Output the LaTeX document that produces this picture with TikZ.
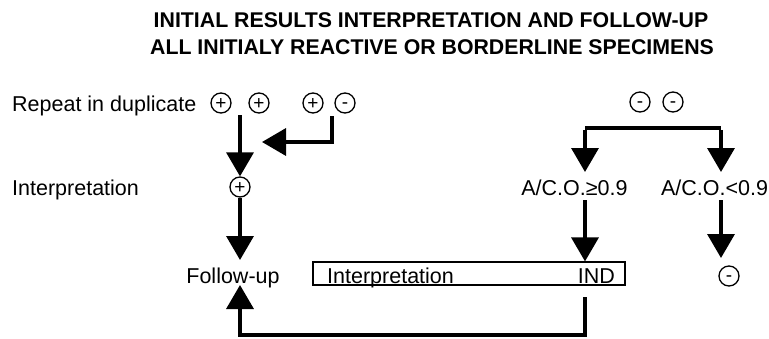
\documentclass[tikz,border=0pt]{standalone}
\usepackage{fontspec}
\setmainfont{Liberation Sans}
\usetikzlibrary{arrows.meta}
\newcommand\plussign{\raisebox{-6.3pt}[0pt][0pt]{+}}
\newcommand\minussign{\raisebox{-5pt}[0pt][0pt]{-}}
\begin{document}
\begin{tikzpicture}[x=1pt,y=-1pt,
 lbl/.style={font=\fontsize{21.5}{24}\selectfont, inner sep=0pt},
 ttl/.style={font=\bfseries\fontsize{21.3}{24}\selectfont, inner sep=0pt, anchor=base},
 res/.style={circle, draw, line width=1.3pt, minimum size=20pt, inner sep=0pt, font=\fontsize{19}{19}\selectfont},
 flow/.style={line width=3.5pt, -{Triangle[length=24pt,width=27pt]}, line join=miter},
 bar/.style={line width=3.5pt, line join=miter}]
\useasboundingbox (0,0) rectangle (769,338);
% title
\node[ttl] (t1) at (431,27) {INITIAL RESULTS INTERPRETATION AND FOLLOW-UP};
\node[ttl] (t2) at (432,54) {ALL INITIALY REACTIVE OR BORDERLINE SPECIMENS};
% left labels
\node[lbl, anchor=base west] (rep) at (12,111) {Repeat in duplicate};
\node[lbl, anchor=base west] (int) at (12,195) {Interpretation};
% result circles
\node[res] (p1) at (221,103) {\plussign};
\node[res] (p2) at (259,103) {\plussign};
\node[res] (p3) at (313,103) {\plussign};
\node[res] (m1) at (345,103) {\minussign};
\node[res] (ip) at (240,187) {\plussign};
\node[res] (m2) at (640,102) {\minussign};
\node[res] (m3) at (673,102) {\minussign};
\node[res] (m4) at (729,276) {\minussign};
% lower texts
\node[lbl, anchor=base] (fu) at (233,283) {Follow-up};
\node[draw, line width=1.2pt, minimum width=312pt, minimum height=23pt, inner sep=0pt] (bx) at (469,273.5) {};
\node[lbl, anchor=base west] (bi) at (327,283) {Interpretation};
\node[lbl, anchor=base east] (bind) at (615,283) {IND};
\node[lbl, anchor=base] (ac1) at (574.5,195) {A/C.O.≥0.9};
\node[lbl, anchor=base] (ac2) at (714.5,195) {A/C.O.<0.9};
% coordinates
\coordinate (s1) at (240,115);
\coordinate (s2) at (332,116);
\coordinate (e2) at (262,142);
\coordinate (e3) at (240,260);
\coordinate (bl) at (585,128);
\coordinate (br) at (721,128);
\coordinate (e4) at (585,172);
\coordinate (e5) at (721,172);
\coordinate (s6) at (585,200);
\coordinate (s7) at (721,200);
\coordinate (e7) at (721,258);
\coordinate (s8) at (585,297);
\coordinate (c8) at (585,335);
\coordinate (e8) at (240,285);
% connectors
\draw[flow] (s1) -- (ip.north);
\draw[flow] (s2) |- (e2);
\draw[flow] (ip.south) -- (e3);
\draw[bar] (bl) -- (br);
\draw[flow] ([yshift=-1.75pt]bl) -- (e4);
\draw[flow] ([yshift=-1.75pt]br) -- (e5);
\draw[flow] (s6) -- (bx.north -| s6);
\draw[flow] (s7) -- (e7);
\draw[flow] (s8) -- (c8) -| (e8);
\end{tikzpicture}
\end{document}
